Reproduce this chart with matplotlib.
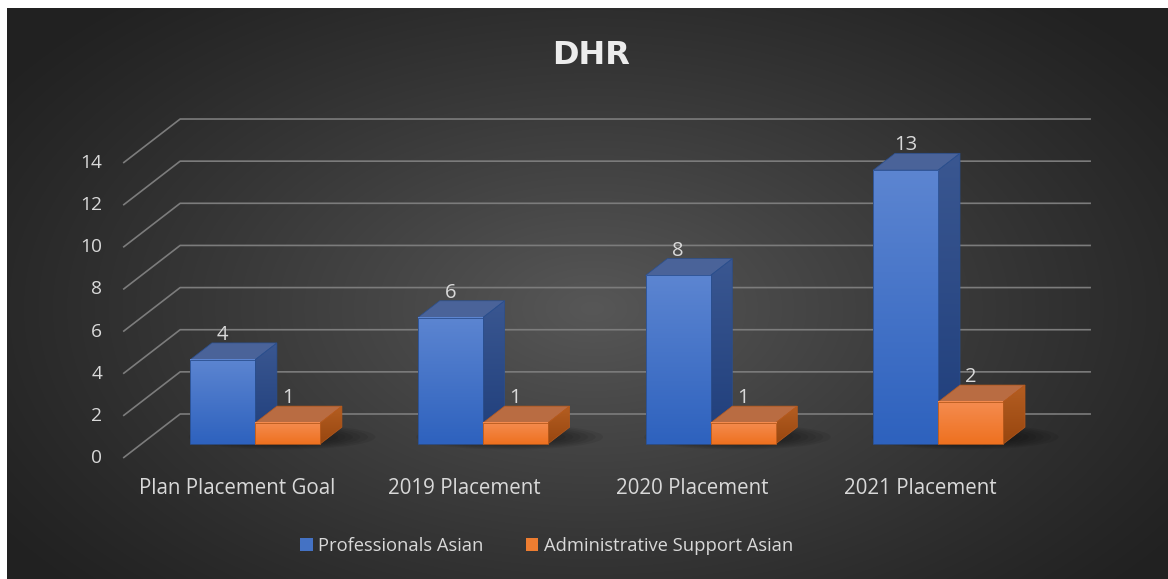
import numpy as np
import matplotlib
matplotlib.use("Agg")
import matplotlib.pyplot as plt
from matplotlib.patches import Polygon, Ellipse, Patch

# ---------------- data ----------------
categories = ["Plan Placement Goal", "2019 Placement", "2020 Placement", "2021 Placement"]
series_names = ["Professionals Asian", "Administrative Support Asian"]
professionals = [4, 6, 8, 13]
admin_support = [1, 1, 1, 2]
y_ticks = [0, 2, 4, 6, 8, 10, 12, 14]
title_text = "DHR"

# ---------------- styling ----------------
W, H, DPI = 1168, 579, 100
FONT = "Open Sans"
TXT = "#d9d9d9"
GRID = "#7c7c7c"

BLUE = dict(front=("#2e62be", "#5c85d1"), side=("#1f3e7b", "#3a5791"),
            top="#4a6399", edge="#2a4f8f", legend="#4472c4")
ORANGE = dict(front=("#ee7120", "#f58c50"), side=("#98460f", "#b45e22"),
              top="#b96c42", edge="#b85a1c", legend="#ed7d31")

# oblique-projection geometry (in data units)
PX_X = 227.7            # pixels per category unit
PX_Y = 21.07            # pixels per value unit
DEPTH_DX = 57 / PX_X    # horizontal shift of full floor depth
DEPTH_DY = 44 / PX_Y    # vertical shift of full floor depth
ZF, ZB = 0.318, 0.70    # bar front / back depth fraction
BW = 65 / PX_X          # bar width
FLOOR_L, FLOOR_R = -0.5, len(categories) - 0.5

fig = plt.figure(figsize=(W / DPI, H / DPI), dpi=DPI, facecolor="white")

# background radial gradient
bg = fig.add_axes([7 / W, 0, (W - 7) / W, (H - 8) / H])
bg.set_axis_off()
gh, gw = H - 8, W - 7
yy, xx = np.mgrid[0:gh, 0:gw]
r = np.sqrt(((xx - 585) / 720.0) ** 2 + ((yy - 300) / 420.0) ** 2)
r = np.clip(r, 0, 1)
c_in, c_out = 0x57 / 255, 0x21 / 255
val = c_out + (c_in - c_out) * (1 - r) ** 1.15
img = np.dstack([val, val, val])
bg.imshow(img, aspect="auto", interpolation="bilinear")

ax = fig.add_axes([0, 0, 1, 1])
ax.patch.set_alpha(0)
ax.set_axis_off()
x_min, x_max = -237 / PX_X, (W - 237) / PX_X
y_min, y_max = (458 - H) / PX_Y, 458 / PX_Y


def proj(x, v, z):
    return x + z * DEPTH_DX, v + z * DEPTH_DY


# gridlines: left wall diagonal + back wall horizontal
for t in y_ticks:
    p0 = proj(FLOOR_L, t, 0)
    p1 = proj(FLOOR_L, t, 1)
    p2 = proj(FLOOR_R, t, 1)
    ax.plot([p0[0], p1[0], p2[0]], [p0[1], p1[1], p2[1]], color=GRID, lw=1.2,
            solid_capstyle="butt", zorder=1)
    ax.text(p0[0] - 21 / PX_X, t, str(t), ha="right", va="center",
            fontsize=13.8, color=TXT, family=FONT, zorder=1)


def grad_img(c_bottom, c_top, n=64):
    a = np.array(matplotlib.colors.to_rgb(c_bottom))
    b = np.array(matplotlib.colors.to_rgb(c_top))
    t = np.linspace(0, 1, n)[:, None]
    return (a + (b - a) * t)[:, None, :]


def draw_bar(xl, value, sty, z0):
    vb = ZF * DEPTH_DY
    vt = vb + value
    ddx = (ZB - ZF) * DEPTH_DX
    ddy = (ZB - ZF) * DEPTH_DY
    # side face
    side = [(xl + BW, vb), (xl + BW + ddx, vb + ddy), (xl + BW + ddx, vt + ddy), (xl + BW, vt)]
    sp = Polygon(side, closed=True, transform=ax.transData, facecolor="none",
                 edgecolor=sty["edge"], lw=0.5, zorder=z0 + 0.2)
    im = ax.imshow(grad_img(*sty["side"]), extent=[xl + BW, xl + BW + ddx, vb, vt + ddy],
                   origin="lower", aspect="auto", interpolation="bilinear", zorder=z0)
    im.set_clip_path(sp)
    ax.add_patch(sp)
    # top face
    top = [(xl, vt), (xl + BW, vt), (xl + BW + ddx, vt + ddy), (xl + ddx, vt + ddy)]
    ax.add_patch(Polygon(top, closed=True, facecolor=sty["top"], edgecolor=sty["edge"],
                         lw=0.5, zorder=z0 + 0.1))
    # front face
    ax.imshow(grad_img(*sty["front"]), extent=[xl, xl + BW, vb, vt], origin="lower",
              aspect="auto", interpolation="bilinear", zorder=z0 + 0.3)
    ax.add_patch(Polygon([(xl, vb), (xl + BW, vb), (xl + BW, vt), (xl, vt)], closed=True,
                         facecolor="none", edgecolor=sty["edge"], lw=0.6, zorder=z0 + 0.35))
    # value label
    ax.text(xl + BW / 2, vt + ddy + 3 / PX_Y, str(value), ha="center", va="baseline",
            fontsize=14.5, color=TXT, family=FONT, zorder=10)


for i, cat in enumerate(categories):
    # soft shadow on the floor
    cx, cy = i + 45 / PX_X, (458 - 437) / PX_Y
    for k in range(10):
        s = 1 - k * 0.08
        ax.add_patch(Ellipse((cx, cy), 0.82 * s, 1.2 * s, facecolor="black",
                             edgecolor="none", alpha=0.07, zorder=2))
    xl0 = i - BW + ZF * DEPTH_DX
    draw_bar(xl0, professionals[i], BLUE, 3 + i)
    draw_bar(xl0 + BW, admin_support[i], ORANGE, 3.5 + i)
    ax.text(i, (458 - 488) / PX_Y, cat, ha="center", va="center",
            fontsize=14.8, color=TXT, family=FONT)

ax.set_xlim(x_min, x_max)
ax.set_ylim(y_min, y_max)

fig.text(591 / W, 1 - 55 / H, title_text, ha="center", va="center", fontsize=23,
         fontweight="bold", color="#ececec", family="DejaVu Sans")

handles = [Patch(facecolor=BLUE["legend"], edgecolor="none"),
           Patch(facecolor=ORANGE["legend"], edgecolor="none")]
fig.legend(handles, series_names, loc="center", bbox_to_anchor=(546.5 / W, 1 - 546 / H),
           ncol=2, frameon=False, handlelength=0.7, handleheight=0.75, handletextpad=0.3,
           columnspacing=2.3, prop={"family": FONT, "size": 13.2}, labelcolor=TXT)

fig.savefig("out.png", dpi=DPI, facecolor="white")
